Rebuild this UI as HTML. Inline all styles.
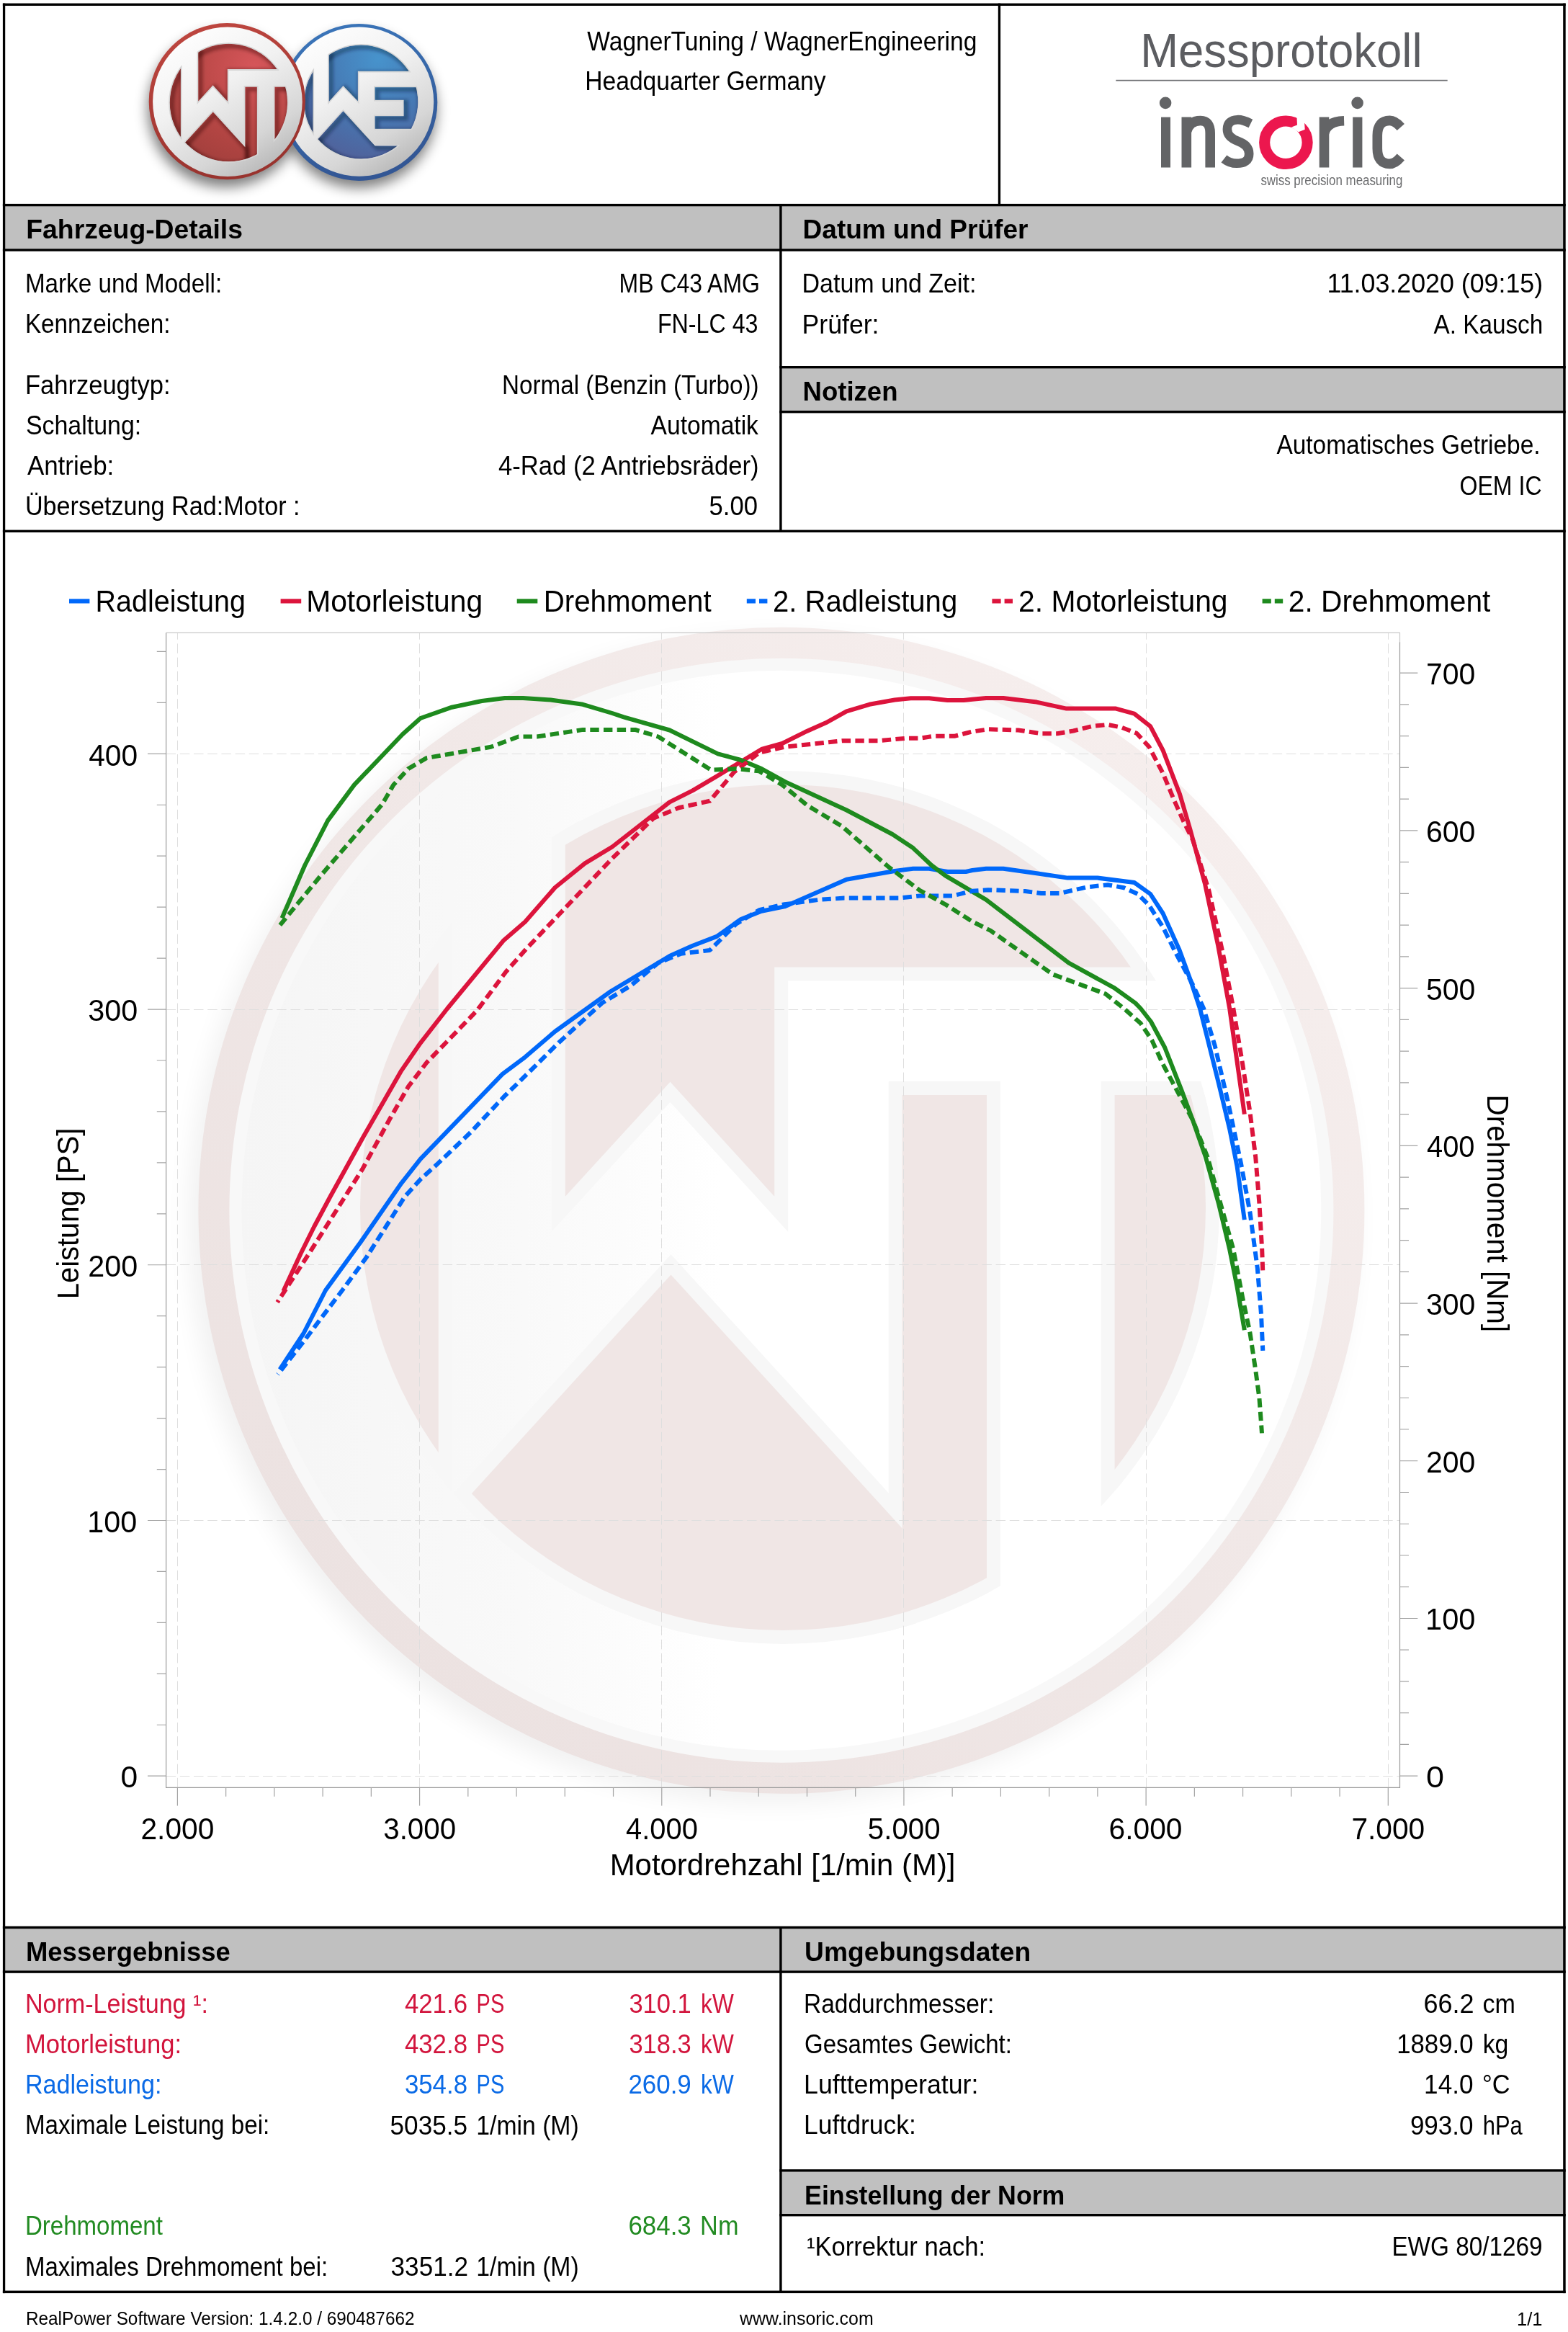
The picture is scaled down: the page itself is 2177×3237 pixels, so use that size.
<!DOCTYPE html>
<html><head><meta charset="utf-8"><title>Messprotokoll</title>
<style>html,body{margin:0;padding:0;background:#fff}svg{display:block}text{font-family:"Liberation Sans",sans-serif;white-space:pre}</style></head><body>
<svg width="2177" height="3237" viewBox="0 0 2177 3237">

<g id="nontext">
<rect x="0" y="0" width="2177" height="3237" fill="#fff"/>
<rect x="7.00" y="286.00" width="2164.00" height="60.00" fill="#c0c0c0"/>
<rect x="1085.00" y="511.00" width="1086.00" height="59.00" fill="#c0c0c0"/>
<rect x="7.00" y="2677.00" width="2164.00" height="59.00" fill="#c0c0c0"/>
<rect x="1085.00" y="3014.50" width="1086.00" height="58.50" fill="#c0c0c0"/>
<rect x="3.90" y="4.60" width="2169.80" height="3.40" fill="#000"/>
<rect x="3.90" y="3179.60" width="2169.80" height="3.50" fill="#000"/>
<rect x="3.90" y="4.60" width="3.30" height="3178.50" fill="#000"/>
<rect x="2170.20" y="4.60" width="3.50" height="3178.50" fill="#000"/>
<rect x="3.90" y="282.90" width="2169.80" height="3.40" fill="#000"/>
<rect x="3.90" y="345.40" width="2169.80" height="3.40" fill="#000"/>
<rect x="1082.20" y="508.00" width="1091.50" height="3.40" fill="#000"/>
<rect x="1082.20" y="570.00" width="1091.50" height="3.40" fill="#000"/>
<rect x="3.90" y="735.60" width="2169.80" height="3.40" fill="#000"/>
<rect x="3.90" y="2673.80" width="2169.80" height="3.40" fill="#000"/>
<rect x="3.90" y="2735.40" width="2169.80" height="3.40" fill="#000"/>
<rect x="1082.20" y="3011.20" width="1091.50" height="3.40" fill="#000"/>
<rect x="1082.20" y="3073.00" width="1091.50" height="3.40" fill="#000"/>
<rect x="1082.20" y="283.00" width="3.40" height="456.00" fill="#000"/>
<rect x="1082.20" y="2674.00" width="3.40" height="509.00" fill="#000"/>
<rect x="1385.80" y="4.60" width="3.30" height="281.40" fill="#000"/>
<defs>
<filter id="lgsh" x="-30%" y="-30%" width="160%" height="160%"><feGaussianBlur stdDeviation="9"/></filter>
<filter id="lgsh2" x="-30%" y="-30%" width="160%" height="160%"><feGaussianBlur stdDeviation="16"/></filter>
<linearGradient id="silv" x1="0.2" y1="0" x2="0.8" y2="1"><stop offset="0" stop-color="#ffffff"/><stop offset="0.4" stop-color="#f1f1f1"/><stop offset="0.75" stop-color="#d6d6d6"/><stop offset="1" stop-color="#b2b2b2"/></linearGradient>
<linearGradient id="redrim" x1="0" y1="0" x2="0.3" y2="1"><stop offset="0" stop-color="#c24841"/><stop offset="1" stop-color="#99332e"/></linearGradient>
<linearGradient id="bluerim" x1="0" y1="0" x2="0.3" y2="1"><stop offset="0" stop-color="#3b78bd"/><stop offset="1" stop-color="#335795"/></linearGradient>
<radialGradient id="redface" cx="0.72" cy="0.2" r="0.95"><stop offset="0" stop-color="#d6565a"/><stop offset="0.55" stop-color="#b84745"/><stop offset="1" stop-color="#9f3e3b"/></radialGradient>
<radialGradient id="blueface" cx="0.65" cy="0.12" r="1.0"><stop offset="0" stop-color="#4793cc"/><stop offset="0.5" stop-color="#4678b3"/><stop offset="1" stop-color="#525d96"/></radialGradient>
<clipPath id="wtd"><circle cx="1087" cy="1676" r="587"/></clipPath><clipPath id="wtd2"><circle cx="1087" cy="1676" r="598"/></clipPath>
<clipPath id="wed"><circle cx="722" cy="795" r="563"/></clipPath><clipPath id="wed2"><circle cx="722" cy="795" r="574"/></clipPath>
</defs>
<g filter="url(#lgsh)" opacity="0.5"><circle cx="498" cy="153" r="108" fill="#000"/><circle cx="313" cy="152" r="108" fill="#000"/></g>
<circle cx="498.4" cy="142" r="108.9" fill="url(#bluerim)"/>
<circle cx="498.6" cy="141.1" r="103.6" fill="url(#silv)"/>
<g transform="translate(400 30) scale(0.14031)">
<g clip-path="url(#wed2)"><g fill="#d6d6d6" stroke="#d6d6d6" stroke-width="24">
<polygon points="0.0,0.0 245.0,0.0 245.0,5000.0 0.0,5000.0"/>
<polygon points="405.0,0.0 405.0,790.0 545.0,635.0 690.0,785.0 690.0,490.0 5000.0,490.0 5000.0,0.0"/>
<polygon points="860.0,650.0 5000.0,650.0 5000.0,1060.0 860.0,1060.0 860.0,935.0 1145.0,935.0 1145.0,775.0 860.0,775.0"/>
<polygon points="545.0,885.0 860.0,1230.0 5000.0,1230.0 5000.0,5000.0 0.0,5000.0 -122.6,1629.6"/>
</g></g>
<clipPath id="wereg">
<polygon points="0.0,0.0 245.0,0.0 245.0,5000.0 0.0,5000.0"/>
<polygon points="405.0,0.0 405.0,790.0 545.0,635.0 690.0,785.0 690.0,490.0 5000.0,490.0 5000.0,0.0"/>
<polygon points="860.0,650.0 5000.0,650.0 5000.0,1060.0 860.0,1060.0 860.0,935.0 1145.0,935.0 1145.0,775.0 860.0,775.0"/>
<polygon points="545.0,885.0 860.0,1230.0 5000.0,1230.0 5000.0,5000.0 0.0,5000.0 -122.6,1629.6"/>
</clipPath>
<g clip-path="url(#wed)"><g clip-path="url(#wereg)"><circle cx="722" cy="795" r="563" fill="url(#blueface)"/>
<g filter="url(#lgsh2)" transform="translate(20 20)" fill="none" stroke="#0a1430" stroke-opacity="0.38" stroke-width="46">
<polygon points="0.0,0.0 245.0,0.0 245.0,5000.0 0.0,5000.0"/>
<polygon points="405.0,0.0 405.0,790.0 545.0,635.0 690.0,785.0 690.0,490.0 5000.0,490.0 5000.0,0.0"/>
<polygon points="860.0,650.0 5000.0,650.0 5000.0,1060.0 860.0,1060.0 860.0,935.0 1145.0,935.0 1145.0,775.0 860.0,775.0"/>
<polygon points="545.0,885.0 860.0,1230.0 5000.0,1230.0 5000.0,5000.0 0.0,5000.0 -122.6,1629.6"/>
<circle cx="722" cy="795" r="563"/></g>
</g></g>
</g>
<circle cx="315.3" cy="140.7" r="108.6" fill="url(#redrim)"/>
<circle cx="315.9" cy="141.3" r="103.8" fill="url(#silv)"/>
<g transform="translate(317.4 142.5) scale(0.13918) translate(-1087 -1676)">
<g clip-path="url(#wtd2)"><g fill="#d6d6d6" stroke="#d6d6d6" stroke-width="26">
<polygon points="0.0,0.0 608.8,0.0 608.8,5000.0 0.0,5000.0"/>
<polygon points="784.8,0.0 784.8,1660.8 930.5,1501.7 1075.2,1660.8 1075.2,1342.5 5000.0,1342.5 5000.0,0.0"/>
<polygon points="931.5,1769.4 1252.7,2121.4 1252.7,5000.0 0.0,5000.0 123.5,2656.6"/>
<polygon points="1252.7,1520.0 1370.0,1520.0 1370.0,5000.0 1252.7,5000.0"/>
<polygon points="1547.6,1520.0 5000.0,1520.0 5000.0,5000.0 1547.6,5000.0"/>
</g></g>
<clipPath id="wtreg">
<polygon points="0.0,0.0 608.8,0.0 608.8,5000.0 0.0,5000.0"/>
<polygon points="784.8,0.0 784.8,1660.8 930.5,1501.7 1075.2,1660.8 1075.2,1342.5 5000.0,1342.5 5000.0,0.0"/>
<polygon points="931.5,1769.4 1252.7,2121.4 1252.7,5000.0 0.0,5000.0 123.5,2656.6"/>
<polygon points="1252.7,1520.0 1370.0,1520.0 1370.0,5000.0 1252.7,5000.0"/>
<polygon points="1547.6,1520.0 5000.0,1520.0 5000.0,5000.0 1547.6,5000.0"/>
</clipPath>
<g clip-path="url(#wtd)"><g clip-path="url(#wtreg)"><circle cx="1087" cy="1676" r="587" fill="url(#redface)"/>
<g filter="url(#lgsh2)" transform="translate(20 20)" fill="none" stroke="#300808" stroke-opacity="0.38" stroke-width="48">
<polygon points="0.0,0.0 608.8,0.0 608.8,5000.0 0.0,5000.0"/>
<polygon points="784.8,0.0 784.8,1660.8 930.5,1501.7 1075.2,1660.8 1075.2,1342.5 5000.0,1342.5 5000.0,0.0"/>
<polygon points="931.5,1769.4 1252.7,2121.4 1252.7,5000.0 0.0,5000.0 123.5,2656.6"/>
<polygon points="1252.7,1520.0 1370.0,1520.0 1370.0,5000.0 1252.7,5000.0"/>
<polygon points="1547.6,1520.0 5000.0,1520.0 5000.0,5000.0 1547.6,5000.0"/>
<circle cx="1087" cy="1676" r="587"/></g>
</g></g>
</g>
<rect x="1549.3" y="110.8" width="460.4" height="1.7" fill="#6e6f72"/>
<rect x="1612.0" y="162.6" width="13.0" height="69.9" fill="#636466"/>
<circle cx="1618.1" cy="142.9" r="8.3" fill="#636466"/>
<path d="M1647.3 232.5 V162.6 M1680.2 232.5 V185.0 Q1680.2 167.5 1666.8 167.5 Q1651.3 167.5 1647.3 183.0" fill="none" stroke="#636466" stroke-width="13.6"/>
<path d="M1736.4 171.5 Q1724.9 165.8 1717.9 166.2 Q1703.9 166.8 1703.9 179.5 Q1703.9 190.5 1718.9 196.0 Q1734.2 201.5 1734.2 213.5 Q1734.2 226.8 1716.9 226.8 Q1707.4 226.8 1699.4 220.5" fill="none" stroke="#636466" stroke-width="12.6"/>
<circle cx="1785.4" cy="197.8" r="29.75" fill="none" stroke="#ec174e" stroke-width="15.1"/>
<polygon points="1800.2,157 1801,173.4 1793,176.5 1802.8,183.3 1811.7,179.7 1811.1,170.5 1820,160" fill="#fff"/>
<path d="M1838.5 232.5 V162.6 M1838.5 186.0 Q1841.5 168.5 1866.1 167.8" fill="none" stroke="#636466" stroke-width="13.6"/>
<rect x="1878.2" y="162.6" width="13.2" height="69.9" fill="#636466"/>
<circle cx="1884.6" cy="142.9" r="8.3" fill="#636466"/>
<path d="M1944.8 176.5 Q1936.8 167.4 1929.5 167.4 Q1912.3 167.4 1912.3 188.0 V206.0 Q1912.3 227.4 1929.5 227.4 Q1936.8 227.4 1944.8 218.0" fill="none" stroke="#636466" stroke-width="13.6"/>
<g id="chart">
<clipPath id="plotclip"><rect x="230.6" y="878.4" width="1712.9" height="1602.9"/></clipPath>
<defs>
<clipPath id="wmdisc"><circle cx="1087.0" cy="1676.0" r="587.0"/></clipPath>
<clipPath id="wmdisc2"><circle cx="1087.0" cy="1676.0" r="606.0"/></clipPath>
<linearGradient id="wmg" gradientUnits="userSpaceOnUse" x1="320" x2="1000" y1="0" y2="0"><stop offset="0" stop-color="#f5f5f5"/><stop offset="0.6" stop-color="#f9f9f9"/><stop offset="1" stop-color="#ffffff"/></linearGradient>
<linearGradient id="wmring" gradientUnits="userSpaceOnUse" x1="500" y1="2300" x2="1650" y2="1050"><stop offset="0" stop-color="#ece2e1"/><stop offset="0.5" stop-color="#f0e7e6"/><stop offset="1" stop-color="#f6eeed"/></linearGradient>
<filter id="wmblur" x="-10%" y="-10%" width="120%" height="120%"><feGaussianBlur stdDeviation="17"/></filter>
</defs>
<g>
<circle cx="1071.9" cy="1693.3" r="809.5" fill="#000" opacity="0.055" filter="url(#wmblur)"/>
<circle cx="1084.9" cy="1680.3" r="809.5" fill="url(#wmring)"/>
<circle cx="1084.9" cy="1680.3" r="766.5" fill="#f8f8f8"/>
<circle cx="1084.9" cy="1680.3" r="749.5" fill="url(#wmg)"/>
<circle cx="1087.0" cy="1676.0" r="587.0" fill="url(#wmg)"/>
<g clip-path="url(#wmdisc2)" fill="#f7f7f7" stroke="#f7f7f7" stroke-width="38" stroke-linejoin="miter">
<polygon points="0.0,0.0 608.8,0.0 608.8,3000.0 0.0,3000.0"/>
<polygon points="784.8,0.0 784.8,1660.8 930.5,1501.7 1075.2,1660.8 1075.2,1342.5 3000.0,1342.5 3000.0,0.0"/>
<polygon points="931.5,1769.4 1252.7,2121.4 1252.7,3000.0 0.0,3000.0 123.5,2656.6"/>
<polygon points="1252.7,1520.0 1370.0,1520.0 1370.0,3000.0 1252.7,3000.0"/>
<polygon points="1547.6,1520.0 3000.0,1520.0 3000.0,3000.0 1547.6,3000.0"/>
</g>
<g clip-path="url(#wmdisc)" fill="#f0e6e5">
<polygon points="0.0,0.0 608.8,0.0 608.8,3000.0 0.0,3000.0"/>
<polygon points="784.8,0.0 784.8,1660.8 930.5,1501.7 1075.2,1660.8 1075.2,1342.5 3000.0,1342.5 3000.0,0.0"/>
<polygon points="931.5,1769.4 1252.7,2121.4 1252.7,3000.0 0.0,3000.0 123.5,2656.6"/>
<polygon points="1252.7,1520.0 1370.0,1520.0 1370.0,3000.0 1252.7,3000.0"/>
<polygon points="1547.6,1520.0 3000.0,1520.0 3000.0,3000.0 1547.6,3000.0"/>
</g>
</g>
<line x1="246.50" y1="2481.30" x2="246.50" y2="878.40" stroke="#dedede" stroke-width="1" stroke-dasharray="13.5 5.7"/>
<line x1="582.50" y1="2481.30" x2="582.50" y2="878.40" stroke="#dedede" stroke-width="1" stroke-dasharray="13.5 5.7"/>
<line x1="918.50" y1="2481.30" x2="918.50" y2="878.40" stroke="#dedede" stroke-width="1" stroke-dasharray="13.5 5.7"/>
<line x1="1254.50" y1="2481.30" x2="1254.50" y2="878.40" stroke="#dedede" stroke-width="1" stroke-dasharray="13.5 5.7"/>
<line x1="1591.50" y1="2481.30" x2="1591.50" y2="878.40" stroke="#dedede" stroke-width="1" stroke-dasharray="13.5 5.7"/>
<line x1="1927.50" y1="2481.30" x2="1927.50" y2="878.40" stroke="#dedede" stroke-width="1" stroke-dasharray="13.5 5.7"/>
<line x1="230.60" y1="2465.50" x2="1943.50" y2="2465.50" stroke="#dedede" stroke-width="1" stroke-dasharray="13.5 5.7"/>
<line x1="230.60" y1="2110.50" x2="1943.50" y2="2110.50" stroke="#dedede" stroke-width="1" stroke-dasharray="13.5 5.7"/>
<line x1="230.60" y1="1755.50" x2="1943.50" y2="1755.50" stroke="#dedede" stroke-width="1" stroke-dasharray="13.5 5.7"/>
<line x1="230.60" y1="1401.50" x2="1943.50" y2="1401.50" stroke="#dedede" stroke-width="1" stroke-dasharray="13.5 5.7"/>
<line x1="230.60" y1="1046.50" x2="1943.50" y2="1046.50" stroke="#dedede" stroke-width="1" stroke-dasharray="13.5 5.7"/>
<path d="M230.60 878.40 H1943.50 V892.40" stroke="#c8c8c8" stroke-width="1.2" fill="none"/>
<path d="M230.60 878.40 V2481.30 H1943.50 V891.40" stroke="#9a9a9a" stroke-width="1.2" fill="none"/>
<path d="M205.00 2465.20H230.60M217.80 2394.26H230.60M217.80 2323.31H230.60M217.80 2252.37H230.60M217.80 2181.42H230.60M205.00 2110.48H230.60M217.80 2039.54H230.60M217.80 1968.59H230.60M217.80 1897.65H230.60M217.80 1826.70H230.60M205.00 1755.76H230.60M217.80 1684.82H230.60M217.80 1613.87H230.60M217.80 1542.93H230.60M217.80 1471.98H230.60M205.00 1401.04H230.60M217.80 1330.10H230.60M217.80 1259.15H230.60M217.80 1188.21H230.60M217.80 1117.26H230.60M205.00 1046.32H230.60M217.80 975.38H230.60M217.80 904.43H230.60M1943.50 2465.20H1968.30M1943.50 2421.46H1956.00M1943.50 2377.71H1956.00M1943.50 2333.97H1956.00M1943.50 2290.22H1956.00M1943.50 2246.48H1968.30M1943.50 2202.74H1956.00M1943.50 2158.99H1956.00M1943.50 2115.25H1956.00M1943.50 2071.50H1956.00M1943.50 2027.76H1968.30M1943.50 1984.02H1956.00M1943.50 1940.27H1956.00M1943.50 1896.53H1956.00M1943.50 1852.78H1956.00M1943.50 1809.04H1968.30M1943.50 1765.30H1956.00M1943.50 1721.55H1956.00M1943.50 1677.81H1956.00M1943.50 1634.06H1956.00M1943.50 1590.32H1968.30M1943.50 1546.58H1956.00M1943.50 1502.83H1956.00M1943.50 1459.09H1956.00M1943.50 1415.34H1956.00M1943.50 1371.60H1968.30M1943.50 1327.86H1956.00M1943.50 1284.11H1956.00M1943.50 1240.37H1956.00M1943.50 1196.62H1956.00M1943.50 1152.88H1968.30M1943.50 1109.14H1956.00M1943.50 1065.39H1956.00M1943.50 1021.65H1956.00M1943.50 977.90H1956.00M1943.50 934.16H1968.30M246.40 2481.30V2506.40M313.64 2481.30V2493.80M380.87 2481.30V2493.80M448.11 2481.30V2493.80M515.34 2481.30V2493.80M582.58 2481.30V2506.40M649.82 2481.30V2493.80M717.05 2481.30V2493.80M784.29 2481.30V2493.80M851.52 2481.30V2493.80M918.76 2481.30V2506.40M986.00 2481.30V2493.80M1053.23 2481.30V2493.80M1120.47 2481.30V2493.80M1187.70 2481.30V2493.80M1254.94 2481.30V2506.40M1322.18 2481.30V2493.80M1389.41 2481.30V2493.80M1456.65 2481.30V2493.80M1523.88 2481.30V2493.80M1591.12 2481.30V2506.40M1658.36 2481.30V2493.80M1725.59 2481.30V2493.80M1792.83 2481.30V2493.80M1860.06 2481.30V2493.80M1927.30 2481.30V2506.40" stroke="#a4a4a4" stroke-width="1.2" fill="none"/>
<path d="M388.5 1901.0 L421.4 1851.0 L452.0 1791.0 L499.9 1725.3 L557.3 1642.3 L583.7 1608.9 L697.6 1490.9 L729.1 1467.3 L770.6 1431.7 L847.7 1376.3 L929.7 1327.0 L961.6 1312.7 L995.1 1299.9 L1028.6 1276.0 L1057.3 1264.8 L1089.2 1258.4 L1175.3 1220.8 L1242.2 1209.0 L1267.7 1205.8 L1290.0 1205.8 L1315.6 1210.0 L1341.0 1210.0 L1350.0 1208.0 L1369.1 1205.8 L1393.0 1205.8 L1439.3 1212.2 L1482.3 1218.6 L1523.8 1218.6 L1574.8 1225.0 L1597.1 1240.9 L1614.7 1268.0 L1637.0 1317.4 L1652.9 1360.5 L1666.0 1400.0 L1676.4 1441.2 L1691.8 1502.9 L1707.2 1567.2 L1717.5 1618.6 L1727.8 1693.2" fill="none" stroke="#0068fa" stroke-width="6" stroke-linejoin="round"/>
<path d="M393.4 1792.3 L417.6 1740.0 L436.0 1703.0 L458.5 1661.0 L484.5 1614.0 L505.0 1577.0 L557.3 1486.1 L583.7 1447.8 L621.0 1400.0 L699.4 1305.2 L729.1 1279.5 L770.6 1232.0 L812.1 1198.4 L850.0 1175.5 L929.7 1113.4 L961.6 1097.4 L996.7 1076.7 L1057.3 1040.0 L1086.0 1032.0 L1117.9 1016.1 L1146.6 1003.3 L1175.3 987.4 L1207.1 977.8 L1242.2 971.5 L1264.5 969.2 L1290.0 969.2 L1315.6 972.1 L1337.9 972.1 L1350.0 970.8 L1369.1 968.9 L1393.0 968.9 L1439.3 974.6 L1480.7 983.6 L1549.3 983.6 L1574.8 990.6 L1597.1 1008.1 L1614.7 1041.6 L1638.0 1102.4 L1652.2 1150.5 L1673.0 1227.0 L1691.2 1312.7 L1707.2 1400.0 L1727.8 1546.6" fill="none" stroke="#dc143c" stroke-width="6" stroke-linejoin="round"/>
<path d="M391.5 1274.4 L423.3 1201.0 L455.2 1138.9 L491.9 1089.4 L558.9 1019.3 L583.7 997.0 L627.4 981.7 L668.9 973.0 L700.8 968.9 L726.3 968.9 L764.5 971.5 L809.2 977.8 L850.0 990.0 L866.0 995.4 L929.7 1013.5 L996.7 1046.4 L1028.6 1055.0 L1057.3 1067.1 L1092.3 1086.3 L1175.3 1124.5 L1239.0 1158.0 L1267.7 1177.1 L1293.2 1201.0 L1312.4 1215.4 L1350.0 1237.7 L1369.1 1248.9 L1483.9 1336.6 L1547.7 1371.7 L1576.4 1392.4 L1583.8 1400.0 L1597.9 1418.0 L1617.2 1454.0 L1640.4 1513.2 L1655.8 1554.3 L1673.8 1605.8 L1691.8 1670.1 L1707.2 1734.4 L1717.5 1785.9 L1727.8 1846.3" fill="none" stroke="#1e8a1e" stroke-width="6" stroke-linejoin="round"/>
<path d="M385.7 1907.7 L421.4 1862.4 L452.0 1821.6 L476.0 1790.0 L508.4 1745.8 L539.6 1696.7 L562.0 1661.0 L584.3 1636.4 L606.6 1616.3 L653.5 1571.7 L700.4 1521.5 L720.0 1502.5 L775.5 1447.5 L835.9 1392.2 L875.4 1368.4 L913.8 1336.6 L945.7 1323.8 L985.5 1319.0 L1022.2 1282.4 L1054.0 1263.2 L1089.2 1255.3 L1137.0 1248.9 L1172.0 1246.6 L1248.6 1246.6 L1277.3 1243.5 L1322.0 1243.5 L1350.0 1236.8 L1372.3 1235.2 L1423.3 1237.1 L1445.7 1240.0 L1471.2 1240.0 L1509.4 1231.3 L1538.1 1228.2 L1560.5 1232.3 L1579.6 1240.9 L1595.5 1256.9 L1614.7 1287.1 L1633.8 1325.4 L1656.1 1366.9 L1671.2 1400.0 L1686.7 1451.4 L1704.7 1528.6 L1722.7 1613.5 L1735.5 1683.0 L1745.8 1760.1 L1751.0 1824.4 L1753.3 1874.8" fill="none" stroke="#0068fa" stroke-width="6" stroke-linejoin="round" stroke-dasharray="12.4 6.3" stroke-dashoffset="11.56"/>
<path d="M385.1 1807.6 L429.1 1740.0 L503.0 1623.2 L541.3 1553.0 L566.8 1508.4 L592.3 1475.0 L662.0 1403.0 L702.4 1349.0 L733.1 1314.5 L771.3 1274.4 L809.6 1234.2 L850.0 1191.5 L875.4 1166.8 L907.4 1135.7 L942.5 1121.3 L985.5 1111.8 L1019.0 1071.9 L1054.0 1044.8 L1089.2 1036.8 L1168.9 1028.2 L1219.9 1028.2 L1258.2 1024.7 L1277.3 1024.7 L1296.4 1021.8 L1325.1 1021.8 L1350.0 1015.5 L1372.3 1012.3 L1413.8 1013.5 L1445.7 1018.3 L1468.0 1018.3 L1490.3 1014.5 L1515.8 1008.1 L1538.1 1005.9 L1557.3 1009.7 L1578.0 1017.7 L1595.5 1036.8 L1614.7 1073.5 L1630.6 1111.8 L1643.4 1140.5 L1656.1 1166.0 L1678.4 1236.1 L1697.6 1322.2 L1712.4 1400.0 L1725.2 1477.2 L1735.5 1544.0 L1743.2 1605.8 L1748.4 1670.1 L1752.2 1734.4 L1753.2 1763.3" fill="none" stroke="#dc143c" stroke-width="6" stroke-linejoin="round" stroke-dasharray="12.4 6.3" stroke-dashoffset="9.20"/>
<path d="M385.0 1288.7 L445.7 1215.0 L530.7 1116.3 L546.3 1089.6 L566.8 1067.1 L592.3 1052.1 L681.6 1036.8 L719.9 1022.5 L745.4 1022.5 L809.2 1012.9 L850.0 1012.9 L881.9 1012.9 L913.8 1022.5 L987.1 1068.7 L1022.2 1067.1 L1054.0 1070.3 L1086.0 1089.4 L1121.0 1118.1 L1168.9 1146.8 L1232.7 1202.6 L1277.3 1236.1 L1312.4 1255.3 L1350.0 1279.2 L1375.5 1291.9 L1461.6 1352.5 L1535.0 1379.6 L1560.6 1400.0 L1583.8 1420.6 L1599.2 1443.7 L1614.6 1477.2 L1635.2 1515.8 L1655.8 1554.3 L1676.4 1605.8 L1694.4 1670.1 L1712.4 1734.4 L1725.2 1801.3 L1735.5 1850.2 L1743.2 1901.6 L1748.4 1940.2 L1752.0 1989.4" fill="none" stroke="#1e8a1e" stroke-width="6" stroke-linejoin="round" stroke-dasharray="12.4 6.3" stroke-dashoffset="12.71"/>
<path d="M96.0 834.4H124.4" stroke="#0068fa" stroke-width="6.2"/>
<path d="M389.6 834.4H418.2" stroke="#dc143c" stroke-width="6.2"/>
<path d="M717.7 834.4H746.3" stroke="#1e8a1e" stroke-width="6.2"/>
<path d="M1036.8 834.4H1049.0M1054.0 834.4H1065.4" stroke="#0068fa" stroke-width="6.2"/>
<path d="M1377.4 834.4H1389.6M1394.6 834.4H1406.0" stroke="#dc143c" stroke-width="6.2"/>
<path d="M1752.6 834.4H1764.8M1769.8 834.4H1781.2" stroke="#1e8a1e" stroke-width="6.2"/>
</g>
</g>
<g id="texts" style="opacity:0.999">
<text id="h1" x="815.30" y="69.70" font-size="36.00" fill="#000" textLength="541.10" lengthAdjust="spacingAndGlyphs">WagnerTuning / WagnerEngineering</text>
<text id="h2" x="812.30" y="125.20" font-size="36.00" fill="#000" textLength="334.30" lengthAdjust="spacingAndGlyphs">Headquarter Germany</text>
<text id="mp" x="1583.20" y="93.40" font-size="66.50" fill="#5c5d61" textLength="391.30" lengthAdjust="spacingAndGlyphs">Messprotokoll</text>
<text id="sw" x="1750.40" y="256.90" font-size="20.50" fill="#6a6b6d" textLength="197.00" lengthAdjust="spacingAndGlyphs">swiss precision measuring</text>
<text id="s1" x="36.30" y="330.70" font-size="36.00" font-weight="bold" fill="#000" textLength="300.70" lengthAdjust="spacingAndGlyphs">Fahrzeug-Details</text>
<text id="s2" x="1114.50" y="330.60" font-size="36.00" font-weight="bold" fill="#000" textLength="313.00" lengthAdjust="spacingAndGlyphs">Datum und Prüfer</text>
<text id="s3" x="1114.50" y="555.80" font-size="36.00" font-weight="bold" fill="#000" textLength="132.00" lengthAdjust="spacingAndGlyphs">Notizen</text>
<text id="s4" x="35.90" y="2722.00" font-size="36.00" font-weight="bold" fill="#000" textLength="284.00" lengthAdjust="spacingAndGlyphs">Messergebnisse</text>
<text id="s5" x="1117.10" y="2721.80" font-size="36.00" font-weight="bold" fill="#000" textLength="314.10" lengthAdjust="spacingAndGlyphs">Umgebungsdaten</text>
<text id="s6" x="1117.10" y="3059.90" font-size="36.00" font-weight="bold" fill="#000" textLength="361.30" lengthAdjust="spacingAndGlyphs">Einstellung der Norm</text>
<text id="f1" x="34.90" y="405.50" font-size="36.00" fill="#000" textLength="273.30" lengthAdjust="spacingAndGlyphs">Marke und Modell:</text>
<text id="f2" x="34.90" y="462.30" font-size="36.00" fill="#000" textLength="201.60" lengthAdjust="spacingAndGlyphs">Kennzeichen:</text>
<text id="f3" x="34.90" y="546.70" font-size="36.00" fill="#000" textLength="201.60" lengthAdjust="spacingAndGlyphs">Fahrzeugtyp:</text>
<text id="f4" x="35.90" y="603.10" font-size="36.00" fill="#000" textLength="160.30" lengthAdjust="spacingAndGlyphs">Schaltung:</text>
<text id="f5" x="37.90" y="658.90" font-size="36.00" fill="#000" textLength="120.40" lengthAdjust="spacingAndGlyphs">Antrieb:</text>
<text id="f6" x="34.90" y="714.70" font-size="36.00" fill="#000" textLength="381.70" lengthAdjust="spacingAndGlyphs">Übersetzung Rad:Motor :</text>
<text id="v1" x="859.60" y="405.70" font-size="36.00" fill="#000" textLength="195.30" lengthAdjust="spacingAndGlyphs">MB C43 AMG</text>
<text id="v2" x="912.90" y="462.40" font-size="36.00" fill="#000" textLength="139.60" lengthAdjust="spacingAndGlyphs">FN-LC 43</text>
<text id="v3" x="697.10" y="546.60" font-size="36.00" fill="#000" textLength="356.40" lengthAdjust="spacingAndGlyphs">Normal (Benzin (Turbo))</text>
<text id="v4" x="903.60" y="602.70" font-size="36.00" fill="#000" textLength="149.30" lengthAdjust="spacingAndGlyphs">Automatik</text>
<text id="v5" x="692.10" y="658.90" font-size="36.00" fill="#000" textLength="361.40" lengthAdjust="spacingAndGlyphs">4-Rad (2 Antriebsräder)</text>
<text id="v6" x="984.50" y="715.00" font-size="36.00" fill="#000" textLength="67.40" lengthAdjust="spacingAndGlyphs">5.00</text>
<text id="d1" x="1113.50" y="405.80" font-size="36.00" fill="#000" textLength="242.00" lengthAdjust="spacingAndGlyphs">Datum und Zeit:</text>
<text id="d2" x="1113.50" y="462.70" font-size="36.00" fill="#000" textLength="107.00" lengthAdjust="spacingAndGlyphs">Prüfer:</text>
<text id="dv1" x="1842.40" y="405.60" font-size="36.00" fill="#000" textLength="299.80" lengthAdjust="spacingAndGlyphs">11.03.2020 (09:15)</text>
<text id="dv2" x="1990.50" y="462.50" font-size="36.00" fill="#000" textLength="151.70" lengthAdjust="spacingAndGlyphs">A. Kausch</text>
<text id="n1" x="1772.40" y="630.10" font-size="36.00" fill="#000" textLength="366.20" lengthAdjust="spacingAndGlyphs">Automatisches Getriebe.</text>
<text id="n2" x="2026.50" y="687.00" font-size="36.00" fill="#000" textLength="114.10" lengthAdjust="spacingAndGlyphs">OEM IC</text>
<text id="m1" x="34.90" y="2793.80" font-size="36.00" fill="#d2143c" textLength="254.00" lengthAdjust="spacingAndGlyphs">Norm-Leistung ¹:</text>
<text id="m2" x="34.90" y="2849.60" font-size="36.00" fill="#d2143c" textLength="217.10" lengthAdjust="spacingAndGlyphs">Motorleistung:</text>
<text id="m3" x="34.90" y="2905.90" font-size="36.00" fill="#0a6ae6" textLength="189.60" lengthAdjust="spacingAndGlyphs">Radleistung:</text>
<text id="m4" x="34.90" y="2962.40" font-size="36.00" fill="#000" textLength="339.40" lengthAdjust="spacingAndGlyphs">Maximale Leistung bei:</text>
<text id="m5" x="34.90" y="3101.90" font-size="36.00" fill="#228b22" textLength="191.00" lengthAdjust="spacingAndGlyphs">Drehmoment</text>
<text id="m6" x="34.90" y="3159.20" font-size="36.00" fill="#000" textLength="420.30" lengthAdjust="spacingAndGlyphs">Maximales Drehmoment bei:</text>
<text id="p1n" x="561.90" y="2793.80" font-size="36.00" fill="#d2143c" textLength="87.10" lengthAdjust="spacingAndGlyphs">421.6</text>
<text id="p1u" x="661.60" y="2793.80" font-size="36.00" fill="#d2143c" textLength="38.60" lengthAdjust="spacingAndGlyphs">PS</text>
<text id="p2n" x="561.90" y="2849.80" font-size="36.00" fill="#d2143c" textLength="87.10" lengthAdjust="spacingAndGlyphs">432.8</text>
<text id="p2u" x="661.60" y="2849.80" font-size="36.00" fill="#d2143c" textLength="38.60" lengthAdjust="spacingAndGlyphs">PS</text>
<text id="p3n" x="561.90" y="2906.10" font-size="36.00" fill="#0a6ae6" textLength="87.10" lengthAdjust="spacingAndGlyphs">354.8</text>
<text id="p3u" x="661.60" y="2906.10" font-size="36.00" fill="#0a6ae6" textLength="38.60" lengthAdjust="spacingAndGlyphs">PS</text>
<text id="p4n" x="541.60" y="2962.50" font-size="36.00" fill="#000" textLength="107.40" lengthAdjust="spacingAndGlyphs">5035.5</text>
<text id="p4u" x="661.30" y="2962.50" font-size="36.00" fill="#000" textLength="142.40" lengthAdjust="spacingAndGlyphs">1/min (M)</text>
<text id="p6n" x="542.60" y="3159.20" font-size="36.00" fill="#000" textLength="107.40" lengthAdjust="spacingAndGlyphs">3351.2</text>
<text id="p6u" x="661.30" y="3159.20" font-size="36.00" fill="#000" textLength="142.40" lengthAdjust="spacingAndGlyphs">1/min (M)</text>
<text id="k1n" x="873.40" y="2793.80" font-size="36.00" fill="#d2143c" textLength="86.40" lengthAdjust="spacingAndGlyphs">310.1</text>
<text id="k1u" x="973.10" y="2793.80" font-size="36.00" fill="#d2143c" textLength="45.60" lengthAdjust="spacingAndGlyphs">kW</text>
<text id="k2n" x="873.40" y="2849.80" font-size="36.00" fill="#d2143c" textLength="86.40" lengthAdjust="spacingAndGlyphs">318.3</text>
<text id="k2u" x="973.10" y="2849.80" font-size="36.00" fill="#d2143c" textLength="45.60" lengthAdjust="spacingAndGlyphs">kW</text>
<text id="k3n" x="872.40" y="2906.10" font-size="36.00" fill="#0a6ae6" textLength="87.40" lengthAdjust="spacingAndGlyphs">260.9</text>
<text id="k3u" x="973.10" y="2906.10" font-size="36.00" fill="#0a6ae6" textLength="45.60" lengthAdjust="spacingAndGlyphs">kW</text>
<text id="k5n" x="872.40" y="3101.70" font-size="36.00" fill="#228b22" textLength="87.40" lengthAdjust="spacingAndGlyphs">684.3</text>
<text id="k5u" x="972.10" y="3101.70" font-size="36.00" fill="#228b22" textLength="53.40" lengthAdjust="spacingAndGlyphs">Nm</text>
<text id="u1" x="1116.10" y="2793.80" font-size="36.00" fill="#000" textLength="264.10" lengthAdjust="spacingAndGlyphs">Raddurchmesser:</text>
<text id="u2" x="1117.10" y="2849.80" font-size="36.00" fill="#000" textLength="287.80" lengthAdjust="spacingAndGlyphs">Gesamtes Gewicht:</text>
<text id="u3" x="1116.10" y="2906.10" font-size="36.00" fill="#000" textLength="242.30" lengthAdjust="spacingAndGlyphs">Lufttemperatur:</text>
<text id="u4" x="1116.10" y="2962.40" font-size="36.00" fill="#000" textLength="155.80" lengthAdjust="spacingAndGlyphs">Luftdruck:</text>
<text id="u5" x="1119.90" y="3130.80" font-size="36.00" fill="#000" textLength="248.30" lengthAdjust="spacingAndGlyphs">¹Korrektur nach:</text>
<text id="uv1n" x="1976.40" y="2794.30" font-size="36.00" fill="#000" textLength="70.10" lengthAdjust="spacingAndGlyphs">66.2</text>
<text id="uv1u" x="2058.60" y="2794.30" font-size="36.00" fill="#000" textLength="45.40" lengthAdjust="spacingAndGlyphs">cm</text>
<text id="uv2n" x="1939.20" y="2849.70" font-size="36.00" fill="#000" textLength="106.30" lengthAdjust="spacingAndGlyphs">1889.0</text>
<text id="uv2u" x="2058.70" y="2849.70" font-size="36.00" fill="#000" textLength="35.70" lengthAdjust="spacingAndGlyphs">kg</text>
<text id="uv3n" x="1977.10" y="2905.80" font-size="36.00" fill="#000" textLength="68.40" lengthAdjust="spacingAndGlyphs">14.0</text>
<text id="uv3u" x="2058.00" y="2905.80" font-size="36.00" fill="#000" textLength="38.60" lengthAdjust="spacingAndGlyphs">°C</text>
<text id="uv4n" x="1957.90" y="2962.60" font-size="36.00" fill="#000" textLength="87.60" lengthAdjust="spacingAndGlyphs">993.0</text>
<text id="uv4u" x="2058.70" y="2962.60" font-size="36.00" fill="#000" textLength="55.00" lengthAdjust="spacingAndGlyphs">hPa</text>
<text id="uv5" x="1932.40" y="3131.00" font-size="36.00" fill="#000" textLength="209.10" lengthAdjust="spacingAndGlyphs">EWG 80/1269</text>
<text id="ft1" x="35.90" y="3226.90" font-size="25.00" fill="#000" textLength="539.60" lengthAdjust="spacingAndGlyphs">RealPower Software Version: 1.4.2.0 / 690487662</text>
<text id="ft2" x="1027.00" y="3226.90" font-size="25.00" fill="#000" textLength="185.70" lengthAdjust="spacingAndGlyphs">www.insoric.com</text>
<text id="ft3" x="2106.00" y="3227.50" font-size="25.00" fill="#000" textLength="35.40" lengthAdjust="spacingAndGlyphs">1/1</text>
<text id="l1" x="132.60" y="849.20" font-size="43.20" fill="#000" textLength="208.30" lengthAdjust="spacingAndGlyphs">Radleistung</text>
<text id="l2" x="425.20" y="849.20" font-size="43.20" fill="#000" textLength="244.90" lengthAdjust="spacingAndGlyphs">Motorleistung</text>
<text id="l3" x="754.70" y="849.20" font-size="43.20" fill="#000" textLength="232.90" lengthAdjust="spacingAndGlyphs">Drehmoment</text>
<text id="l4" x="1073.00" y="849.20" font-size="43.20" fill="#000" textLength="256.20" lengthAdjust="spacingAndGlyphs">2. Radleistung</text>
<text id="l5" x="1414.00" y="849.20" font-size="43.20" fill="#000" textLength="290.60" lengthAdjust="spacingAndGlyphs">2. Motorleistung</text>
<text id="l6" x="1788.80" y="849.20" font-size="43.20" fill="#000" textLength="280.60" lengthAdjust="spacingAndGlyphs">2. Drehmoment</text>
<text id="yl0" x="167.50" y="2481.40" font-size="43.20" fill="#000" textLength="23.70" lengthAdjust="spacingAndGlyphs">0</text>
<text id="yl100" x="121.20" y="2126.68" font-size="43.20" fill="#000" textLength="69.00" lengthAdjust="spacingAndGlyphs">100</text>
<text id="yl200" x="122.20" y="1771.96" font-size="43.20" fill="#000" textLength="69.00" lengthAdjust="spacingAndGlyphs">200</text>
<text id="yl300" x="122.20" y="1417.24" font-size="43.20" fill="#000" textLength="69.00" lengthAdjust="spacingAndGlyphs">300</text>
<text id="yl400" x="123.20" y="1062.52" font-size="43.20" fill="#000" textLength="68.00" lengthAdjust="spacingAndGlyphs">400</text>
<text id="yr0" x="1980.00" y="2481.20" font-size="43.20" fill="#000" textLength="25.00" lengthAdjust="spacingAndGlyphs">0</text>
<text id="yr100" x="1979.00" y="2262.48" font-size="43.20" fill="#000" textLength="69.40" lengthAdjust="spacingAndGlyphs">100</text>
<text id="yr200" x="1980.00" y="2043.76" font-size="43.20" fill="#000" textLength="68.40" lengthAdjust="spacingAndGlyphs">200</text>
<text id="yr300" x="1980.00" y="1825.04" font-size="43.20" fill="#000" textLength="68.40" lengthAdjust="spacingAndGlyphs">300</text>
<text id="yr400" x="1981.00" y="1606.32" font-size="43.20" fill="#000" textLength="66.40" lengthAdjust="spacingAndGlyphs">400</text>
<text id="yr500" x="1980.00" y="1387.60" font-size="43.20" fill="#000" textLength="68.40" lengthAdjust="spacingAndGlyphs">500</text>
<text id="yr600" x="1980.00" y="1168.88" font-size="43.20" fill="#000" textLength="68.40" lengthAdjust="spacingAndGlyphs">600</text>
<text id="yr700" x="1980.00" y="950.16" font-size="43.20" fill="#000" textLength="68.40" lengthAdjust="spacingAndGlyphs">700</text>
<text id="xl2000" x="195.50" y="2552.60" font-size="43.20" fill="#000" textLength="101.80" lengthAdjust="spacingAndGlyphs">2.000</text>
<text id="xl3000" x="532.28" y="2552.60" font-size="43.20" fill="#000" textLength="100.80" lengthAdjust="spacingAndGlyphs">3.000</text>
<text id="xl4000" x="869.06" y="2552.60" font-size="43.20" fill="#000" textLength="99.80" lengthAdjust="spacingAndGlyphs">4.000</text>
<text id="xl5000" x="1204.84" y="2552.60" font-size="43.20" fill="#000" textLength="100.80" lengthAdjust="spacingAndGlyphs">5.000</text>
<text id="xl6000" x="1539.62" y="2552.60" font-size="43.20" fill="#000" textLength="101.80" lengthAdjust="spacingAndGlyphs">6.000</text>
<text id="xl7000" x="1876.40" y="2552.60" font-size="43.20" fill="#000" textLength="101.80" lengthAdjust="spacingAndGlyphs">7.000</text>
<text id="xt" x="846.70" y="2602.90" font-size="43.20" fill="#000" textLength="479.80" lengthAdjust="spacingAndGlyphs">Motordrehzahl [1/min (M)]</text>
<text id="yt1" transform="translate(108.7 1803.30) rotate(-90)" font-size="43.2" textLength="237.70" lengthAdjust="spacingAndGlyphs">Leistung [PS]</text>
<text id="yt2" transform="translate(2064.6 1519.60) rotate(90)" font-size="43.2" textLength="329.60" lengthAdjust="spacingAndGlyphs">Drehmoment [Nm]</text>
</g>
</svg></body></html>
